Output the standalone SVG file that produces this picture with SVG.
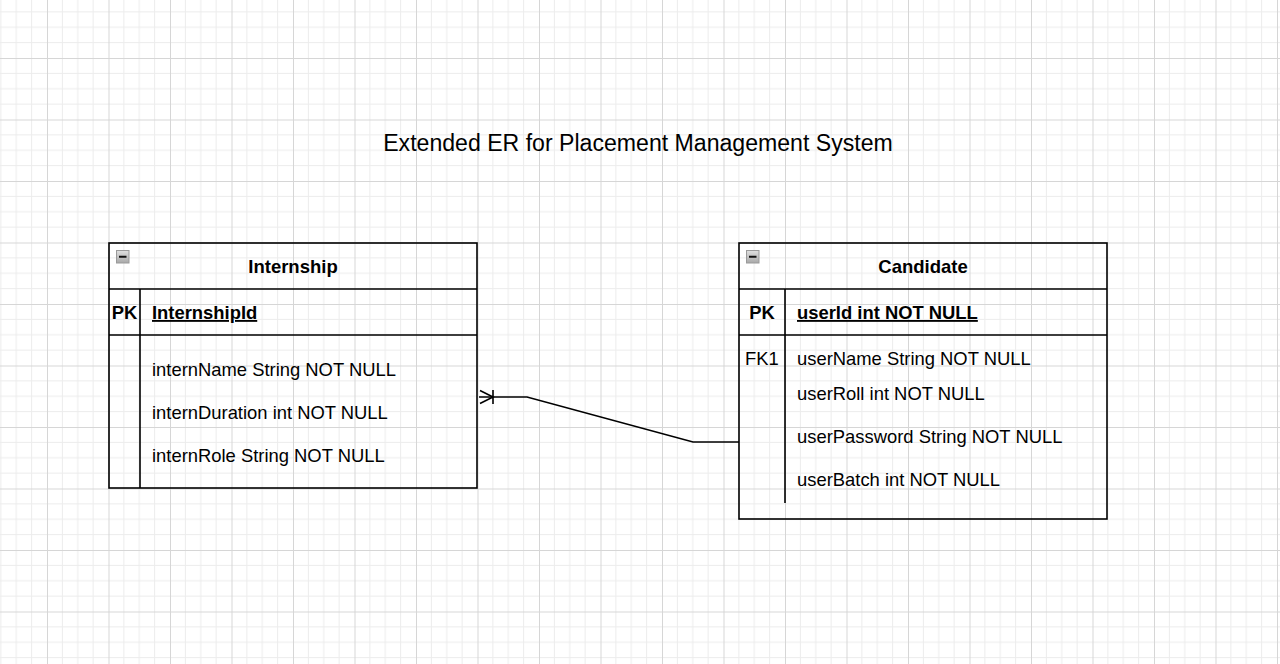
<svg xmlns="http://www.w3.org/2000/svg" width="1280" height="664" viewBox="0 0 1280 664">
  <defs>
    <pattern id="grid" patternUnits="userSpaceOnUse" x="47" y="58" width="61.5" height="61.5">
      <path d="M15.375 0V61.5M30.75 0V61.5M46.125 0V61.5M0 15.375H61.5M0 30.75H61.5M0 46.125H61.5" stroke="#ececec" stroke-width="1" fill="none"/>
      <path d="M0.5 0V61.5M0 0.5H61.5" stroke="#d6d6d6" stroke-width="1" fill="none"/>
    </pattern>
    <linearGradient id="iconGrad" x1="0" y1="0" x2="0" y2="1">
      <stop offset="0" stop-color="#e0e0e0"/>
      <stop offset="1" stop-color="#a8a8a8"/>
    </linearGradient>
    <g id="collapse">
      <rect x="0.5" y="0.5" width="12.5" height="12.5" fill="url(#iconGrad)" stroke="#9a9a9a" stroke-width="1"/>
      <path d="M3 6.75H10.5" stroke="#111" stroke-width="2"/>
    </g>
  </defs>
  <style>
    text { font-family: "Liberation Sans", Arial, sans-serif; fill: #000; }
    .title { font-size: 23.1px; text-anchor: middle; }
    .hdr { font-size: 18.5px; font-weight: bold; text-anchor: middle; }
    .key { font-size: 18.4px; font-weight: bold; }
    .pk { font-size: 18.4px; font-weight: bold; text-decoration: underline; }
    .attr { font-size: 18.4px; }
    .box { fill: none; stroke: #000; stroke-width: 1.6; }
    .ln { fill: none; stroke: #000; stroke-width: 1.6; }
    .edge { fill: none; stroke: #000; stroke-width: 1.6; }
  </style>
  <rect width="1280" height="664" fill="#ffffff"/>
  <rect width="1280" height="664" fill="url(#grid)"/>

  <g id="title">
    <text class="title" x="638" y="151">Extended ER for Placement Management System</text>
  </g>

  <g id="internship">
    <rect class="box" x="109" y="243" width="368" height="245"/>
    <path class="ln" d="M109 289H477M109 335H477M140 289V488"/>
    <use href="#collapse" x="116" y="250"/>
    <text class="hdr" x="293" y="272.5">Internship</text>
    <text class="key" x="124.5" y="319" text-anchor="middle">PK</text>
    <text class="pk" x="152" y="319">InternshipId</text>
    <text class="attr" x="152" y="376">internName String NOT NULL</text>
    <text class="attr" x="152" y="419">internDuration int NOT NULL</text>
    <text class="attr" x="152" y="462">internRole String NOT NULL</text>
  </g>

  <g id="candidate">
    <rect class="box" x="739" y="243" width="368" height="276"/>
    <path class="ln" d="M739 289H1107M739 335H1107M785 289V503"/>
    <use href="#collapse" x="746" y="250"/>
    <text class="hdr" x="923" y="272.5">Candidate</text>
    <text class="key" x="762" y="319" text-anchor="middle">PK</text>
    <text class="pk" x="797" y="319">userId int NOT NULL</text>
    <text class="attr" x="745" y="365">FK1</text>
    <text class="attr" x="797" y="365">userName String NOT NULL</text>
    <text class="attr" x="797" y="400">userRoll int NOT NULL</text>
    <text class="attr" x="797" y="443">userPassword String NOT NULL</text>
    <text class="attr" x="797" y="486">userBatch int NOT NULL</text>
  </g>

  <g id="connectors">
    <path class="edge" d="M739 442H693L527 397H479"/>
    <path class="edge" d="M480 390.5L493 397L480 403.5M493 390V404"/>
  </g>
</svg>
